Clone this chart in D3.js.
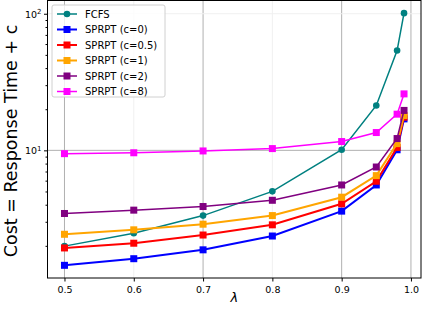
<!DOCTYPE html>
<html>
<head>
  <script src="https://d3js.org/d3.v7.min.js"></script>
  <style>
    body { margin: 0; background: #fff; }
    text { font-family: "DejaVu Sans", sans-serif; }
  </style>
</head>
<body>
  <svg id="chart"></svg>
  <script>
    // lambda values and cost per policy
    const lambdas = [0.5, 0.6, 0.7, 0.8, 0.9, 0.95, 0.98, 0.99]
    const fcfs = [1.99, 2.47, 3.33, 5.01, 10.1, 21.3, 53.8, 101]
    const sprpt0 = [1.44, 1.61, 1.87, 2.36, 3.59, 5.58, 10.1, 17.0]
    const sprpt05 = [1.93, 2.09, 2.40, 2.85, 4.06, 5.94, 10.5, 17.5]
    const sprpt1 = [2.43, 2.62, 2.88, 3.33, 4.54, 6.53, 11.2, 18.0]
    const sprpt2 = [3.45, 3.65, 3.88, 4.31, 5.58, 7.55, 12.2, 19.6]
    const sprpt8 = [9.46, 9.6, 9.9, 10.3, 11.6, 13.5, 18.4, 25.9]
    const xTicks = [0.5, 0.6, 0.7, 0.8, 0.9, 1.0]

    const series = [
      { name: "FCFS", values: fcfs, color: "#008080", shape: "circle", lw: 1.5 },
      { name: "SPRPT (c=0)", values: sprpt0, color: "#0000ff", shape: "square", lw: 2 },
      { name: "SPRPT (c=0.5)", values: sprpt05, color: "#ff0000", shape: "square", lw: 2 },
      { name: "SPRPT (c=1)", values: sprpt1, color: "#ffa500", shape: "square", lw: 2 },
      { name: "SPRPT (c=2)", values: sprpt2, color: "#800080", shape: "square", lw: 1.5 },
      { name: "SPRPT (c=8)", values: sprpt8, color: "#ff00ff", shape: "square", lw: 1.5 }
    ]

    const svgwidth = 422, svgheight = 312
    const margin = { top: 0.5, right: 1, bottom: 34, left: 47.5 }
    const svg = d3.select("#chart").attr("width", svgwidth).attr("height", svgheight)

    const x = d3.scaleLinear()
      .domain([0.4755, 1.0145])
      .range([margin.left, svgwidth - margin.right])
    const y = d3.scaleLog()
      .domain([1.163, 125])
      .range([svgheight - margin.bottom, margin.top])

    // grid
    const faint = [0.6, 0.8]
    svg.append("g").selectAll("line")
      .data(xTicks)
      .enter().append("line")
      .attr("x1", d => x(d)).attr("x2", d => x(d))
      .attr("y1", y.range()[0]).attr("y2", y.range()[1])
      .attr("stroke", d => faint.includes(d) ? "#f0f0f0" : "#b0b0b0")
      .attr("stroke-width", 1)
    svg.append("g").selectAll("line")
      .data([10, 100])
      .enter().append("line")
      .attr("x1", x.range()[0]).attr("x2", x.range()[1])
      .attr("y1", d => y(d)).attr("y2", d => y(d))
      .attr("stroke", d => d == 100 ? "#f0f0f0" : "#b0b0b0")
      .attr("stroke-width", 1)

    // axes
    const xAxis = d3.axisBottom(x).tickValues(xTicks).tickSize(3.5).tickFormat(d3.format(".1f"))
    const gx = svg.append("g")
      .attr("transform", `translate(0,${y.range()[0]})`)
      .call(xAxis)
    gx.select(".domain").remove()
    gx.selectAll("text").attr("font-size", 9.5).attr("font-family", "DejaVu Sans").attr("dy", "0.9em")

    const minors = y.ticks().filter(v => ![10, 100].includes(v))
    const gyMinor = svg.append("g")
      .attr("transform", `translate(${x.range()[0]},0)`)
      .call(d3.axisLeft(y).tickValues(minors).tickSize(2).tickFormat(""))
    gyMinor.select(".domain").remove()

    const gy = svg.append("g")
      .attr("transform", `translate(${x.range()[0]},0)`)
      .call(d3.axisLeft(y).tickValues([10, 100]).tickSize(3.5).tickFormat(""))
    gy.select(".domain").remove()
    gy.selectAll(".tick").append("text")
      .attr("x", -6).attr("dy", "0.35em")
      .attr("text-anchor", "end")
      .attr("fill", "#000")
      .attr("font-size", 9.5)
      .each(function (d) {
        const t = d3.select(this)
        t.append("tspan").text("10")
        t.append("tspan").attr("dy", "-0.45em").attr("font-size", 7).text(Math.round(Math.log10(d)))
      })

    // frame
    svg.append("rect")
      .attr("x", x.range()[0]).attr("y", y.range()[1])
      .attr("width", x.range()[1] - x.range()[0])
      .attr("height", y.range()[0] - y.range()[1])
      .attr("fill", "none").attr("stroke", "#000").attr("stroke-width", 1)

    // lines + markers
    const line = d3.line().x((d, i) => x(lambdas[i])).y(d => y(d))
    series.forEach(s => {
      const g = svg.append("g")
      g.append("path")
        .attr("d", line(s.values))
        .attr("fill", "none")
        .attr("stroke", s.color)
        .attr("stroke-width", s.lw)
      if (s.shape == "circle") {
        g.selectAll("circle").data(s.values).enter().append("circle")
          .attr("cx", (d, i) => x(lambdas[i])).attr("cy", d => y(d))
          .attr("r", 3.3).attr("fill", s.color)
      } else {
        g.selectAll("rect").data(s.values).enter().append("rect")
          .attr("x", (d, i) => x(lambdas[i]) - 3.5).attr("y", d => y(d) - 3.5)
          .attr("width", 7).attr("height", 7).attr("fill", s.color)
      }
    })

    // legend
    const legend = svg.append("g").attr("transform", "translate(52,5)")
    legend.append("rect")
      .attr("width", 113).attr("height", 92).attr("rx", 2)
      .attr("fill", "#fff").attr("fill-opacity", 0.8)
      .attr("stroke", "#d0d0d0").attr("stroke-width", 1)
    series.forEach((s, i) => {
      const row = legend.append("g").attr("transform", `translate(0,${9 + i * 15.5})`)
      row.append("line").attr("x1", 5).attr("x2", 25)
        .attr("stroke", s.color).attr("stroke-width", s.lw)
      if (s.shape == "circle") {
        row.append("circle").attr("cx", 15).attr("r", 3.3).attr("fill", s.color)
      } else {
        row.append("rect").attr("x", 11.5).attr("y", -3.5).attr("width", 7).attr("height", 7).attr("fill", s.color)
      }
      row.append("text").attr("x", 33).attr("dy", "0.35em")
        .attr("font-size", 10).attr("fill", "#000").text(s.name)
    })

    // labels
    svg.append("text")
      .attr("x", (x.range()[0] + x.range()[1]) / 2).attr("y", 302)
      .attr("text-anchor", "middle").attr("font-size", 13).attr("font-style", "italic")
      .text("λ")
    svg.append("text")
      .attr("transform", `translate(16.5,141) rotate(-90)`)
      .attr("text-anchor", "middle").attr("font-size", 17.5)
      .text("Cost = Response Time + c")
  </script>
</body>
</html>
